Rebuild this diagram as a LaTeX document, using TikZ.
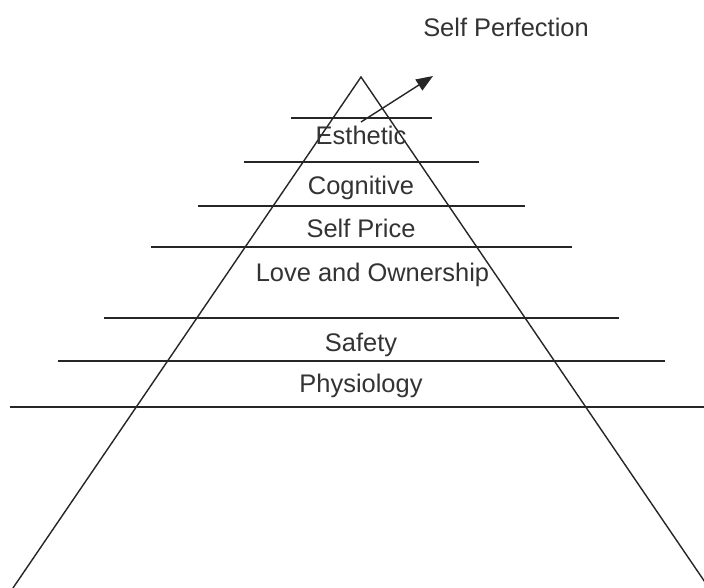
\documentclass[tikz,border=0pt]{standalone}
\usepackage{fontspec}
\setmainfont{Liberation Sans}
\usepackage{tikz}
\usetikzlibrary{arrows.meta,calc}

\tikzset{
  level/.style={draw=black!85, line width=1pt},
  stage/.style={anchor=base, inner sep=0pt, text=black!80, font=\fontsize{18.1}{20}\selectfont}
}

\begin{document}
\begin{tikzpicture}
\clip (0cm,0cm) rectangle (17.6cm,-14.7cm);
\fill[white] (0cm,0cm) rectangle (17.6cm,-14.7cm);
% pyramid
\coordinate (apex) at (9.025cm,-1.925cm);
\coordinate (baseL) at (0.325cm,-14.7cm);
\coordinate (baseR) at (17.725cm,-14.7cm);
\draw[level] (baseL) -- (apex) -- (baseR);
% levels
\draw[level] (7.275cm,-2.95cm) -- (10.8cm,-2.95cm);
\draw[level] (6.1cm,-4.05cm) -- (11.975cm,-4.05cm);
\draw[level] (4.95cm,-5.15cm) -- (13.125cm,-5.15cm);
\draw[level] (3.775cm,-6.175cm) -- (14.3cm,-6.175cm);
\draw[level] (2.6cm,-7.95cm) -- (15.475cm,-7.95cm);
\draw[level] (1.45cm,-9.025cm) -- (16.625cm,-9.025cm);
\draw[level] (0.25cm,-10.175cm) -- (17.6cm,-10.175cm);
% labels
\node[stage] (perfection) at (12.65cm,-0.925cm) {Self Perfection};
\node[stage] (esthetic) at (9.025cm,-3.625cm) {Esthetic};
\node[stage] (cognitive) at (9.025cm,-4.875cm) {Cognitive};
\node[stage] (price) at (9.025cm,-5.95cm) {Self Price};
\node[stage] (love) at (9.3125cm,-7.05cm) {Love and Ownership};
\node[stage] (safety) at (9.025cm,-8.8cm) {Safety};
\node[stage] (physiology) at (9.025cm,-9.825cm) {Physiology};
% arrow
\coordinate (from) at (9.025cm,-3.05cm);
\coordinate (to) at (10.825cm,-1.9cm);
\draw[level,-{Triangle[length=0.42cm,width=0.32cm]}] (from) -- (to);
\end{tikzpicture}
\end{document}
